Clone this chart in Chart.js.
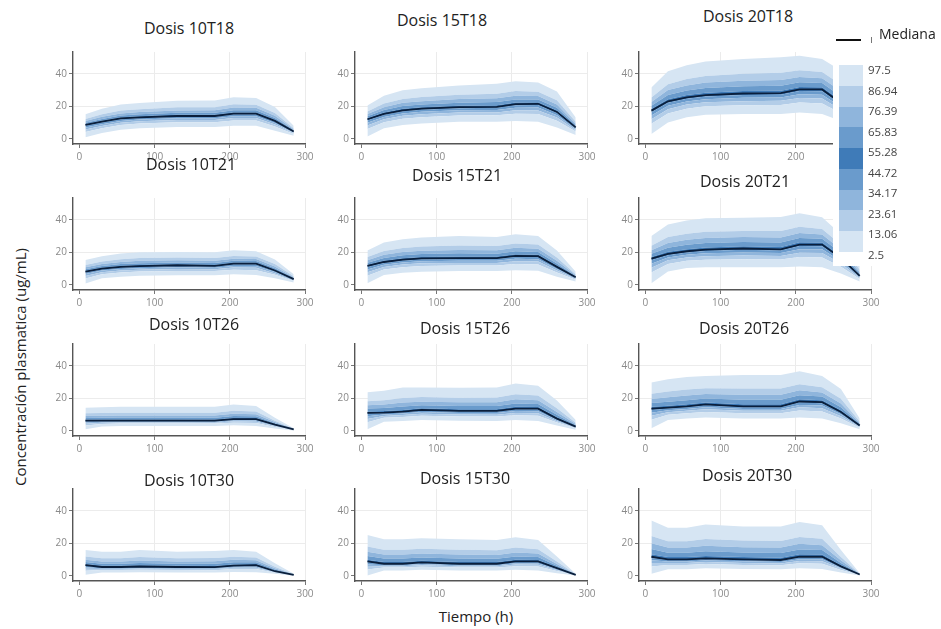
<!DOCTYPE html>
<html>
<head>
<meta charset="utf-8">
<script src="https://cdn.jsdelivr.net/npm/chart.js"></script>
<style>
  body { margin: 0; background: #fff; font-family: 'Open Sans', sans-serif; }
  #page { position: relative; width: 941px; height: 629px; overflow: hidden; }
  #page canvas { position: absolute; }
  .titulo { position: absolute; font-size: 16px; color: #222; white-space: nowrap; transform: translate(-50%, -50%); }
  .eje { position: absolute; font-size: 15px; color: #222; white-space: nowrap; transform: translate(-50%, -50%); }
  #leyenda { position: absolute; left: 833px; top: 48px; width: 108px; height: 218px; background: #fff; z-index: 5; }
  .lab { position: absolute; font-size: 11.5px; color: #444; transform: translateY(-50%); z-index: 6; }
</style>
</head>
<body>
<div id="page"></div>
<script>
// tiempo (h)
const tiempo = [8, 30, 55, 80, 130, 180, 205, 235, 260, 285];
// percentiles shown in the colour bar, top to bottom
const percentiles = ['97.5', '86.94', '76.39', '65.83', '55.28', '44.72', '34.17', '23.61', '13.06', '2.5'];
const ticksX = [0, 100, 200, 300];
const ticksY = [0, 20, 40];

// each panel: quantile curves 2.5, 13.06, 23.61, 34.17, 44.72, 55.28, 65.83, 76.39, 86.94, 97.5
const q10T18 = [
  [1, 3.5, 5.5, 6.5, 7.2, 7.3, 8, 8, 5, 1.8],
  [4.2, 6.5, 8.5, 9.4, 10.1, 10.2, 11.2, 11.2, 7.6, 3.0],
  [5.7, 7.9, 9.9, 10.7, 11.5, 11.5, 12.7, 12.7, 8.8, 3.5],
  [6.9, 9.0, 11.0, 11.8, 12.6, 12.6, 13.9, 13.9, 9.7, 3.9],
  [8.0, 10.0, 12.0, 12.7, 13.5, 13.5, 15.0, 15.0, 10.6, 4.3],
  [9.0, 11.1, 13.1, 13.8, 14.7, 14.7, 16.2, 16.2, 11.6, 4.7],
  [9.9, 12.2, 14.3, 15.1, 16.0, 16.0, 17.6, 17.5, 12.8, 5.2],
  [10.9, 13.5, 15.6, 16.5, 17.4, 17.5, 19.2, 19.0, 14.2, 5.8],
  [12.2, 15.1, 17.3, 18.2, 19.3, 19.4, 21.2, 20.9, 15.8, 6.5],
  [15, 18.5, 21, 22, 23.3, 23.5, 25.5, 25, 19.5, 8]
];
const m10T18 = [8.5, 10.5, 12.5, 13.2, 14, 14, 15.5, 15.5, 11, 4.5];

const q15T18 = [
  [1.4, 6.4, 8.4, 9.4, 10.4, 10.4, 11, 10.4, 7, 2.4],
  [6.0, 10.2, 12.3, 13.3, 14.3, 14.4, 15.4, 15.2, 11.1, 4.4],
  [8.1, 12.0, 14.1, 15.1, 16.1, 16.2, 17.5, 17.4, 13.0, 5.3],
  [9.8, 13.4, 15.6, 16.6, 17.5, 17.7, 19.1, 19.2, 14.5, 6.0],
  [11.3, 14.7, 16.9, 17.9, 18.8, 19.0, 20.6, 20.7, 15.8, 6.7],
  [12.6, 16.1, 18.4, 19.4, 20.3, 20.6, 22.3, 22.4, 17.4, 7.4],
  [13.8, 17.7, 20.1, 21.1, 22.2, 22.6, 24.2, 24.2, 19.1, 8.3],
  [15.2, 19.4, 22.1, 23.1, 24.4, 24.9, 26.5, 26.3, 21.1, 9.2],
  [16.8, 21.7, 24.5, 25.6, 27.0, 27.7, 29.3, 28.9, 23.6, 10.4],
  [20.5, 26.5, 29.8, 31, 32.8, 33.8, 35.3, 34.5, 29, 13]
];
const m15T18 = [12, 15.3, 17.5, 18.5, 19.4, 19.6, 21.3, 21.5, 16.5, 7];

const q20T18 = [
  [3, 10, 13.2, 14.8, 15.2, 15.2, 16.2, 15.2, 11, 4],
  [9.2, 15.6, 18.5, 20.0, 20.6, 20.7, 22.3, 21.7, 15.7, 6.6],
  [12.0, 18.2, 21.0, 22.4, 23.1, 23.3, 25.1, 24.7, 17.9, 7.8],
  [14.3, 20.3, 22.9, 24.3, 25.2, 25.3, 27.3, 27.1, 19.7, 8.7],
  [16.3, 22.1, 24.6, 26.0, 26.9, 27.1, 29.3, 29.2, 21.2, 9.6],
  [18.3, 24.3, 26.9, 28.3, 29.3, 29.5, 31.8, 31.6, 23.4, 10.8],
  [20.3, 26.9, 29.6, 31.2, 32.3, 32.6, 34.7, 34.2, 26.2, 12.5],
  [22.6, 29.9, 32.8, 34.5, 35.6, 36.1, 38.0, 37.2, 29.4, 14.4],
  [25.4, 33.5, 36.7, 38.6, 39.9, 40.5, 42.1, 41.0, 33.4, 16.8],
  [31.5, 41.5, 45.2, 47.5, 49, 50, 51, 49, 42, 22]
];
const m20T18 = [17.3, 23, 25.5, 26.8, 27.8, 28, 30.3, 30.3, 22, 10];

const q10T21 = [
  [0.8, 4, 5, 5.5, 5.9, 5.9, 6.5, 6, 4, 1.4],
  [3.9, 6.5, 7.6, 8.1, 8.5, 8.4, 9.3, 9.0, 6.1, 2.3],
  [5.4, 7.7, 8.8, 9.3, 9.7, 9.5, 10.6, 10.4, 7.0, 2.7],
  [6.6, 8.7, 9.7, 10.2, 10.7, 10.4, 11.6, 11.5, 7.8, 3.1],
  [7.6, 9.5, 10.6, 11.1, 11.6, 11.2, 12.5, 12.5, 8.5, 3.4],
  [8.6, 10.4, 11.6, 12.1, 12.6, 12.2, 13.6, 13.5, 9.3, 3.7],
  [9.6, 11.5, 12.7, 13.3, 13.7, 13.4, 14.7, 14.6, 10.2, 4.1],
  [10.7, 12.8, 14.0, 14.7, 15.0, 14.7, 16.0, 15.8, 11.3, 4.6],
  [12.2, 14.3, 15.7, 16.4, 16.7, 16.4, 17.7, 17.3, 12.7, 5.2],
  [15.2, 17.6, 19.2, 20, 20.2, 20, 21.2, 20.6, 15.6, 6.5]
];
const m10T21 = [8.1, 9.9, 11, 11.5, 12, 11.6, 13, 13, 8.8, 3.5];

const q15T21 = [
  [1, 6, 7.4, 8, 8.4, 8.4, 9, 8.6, 5, 2],
  [5.6, 9.4, 10.8, 11.5, 11.8, 11.8, 12.8, 12.5, 7.6, 3.1],
  [7.7, 11.0, 12.4, 13.2, 13.4, 13.4, 14.5, 14.3, 8.8, 3.6],
  [9.4, 12.3, 13.7, 14.5, 14.7, 14.7, 16.0, 15.7, 9.7, 4.1],
  [10.9, 13.4, 14.8, 15.6, 15.8, 15.8, 17.2, 17.0, 10.6, 4.4],
  [12.3, 14.8, 16.3, 17.1, 17.4, 17.3, 18.7, 18.5, 11.7, 4.8],
  [13.6, 16.5, 18.1, 18.9, 19.3, 19.1, 20.6, 20.2, 13.1, 5.3],
  [15.1, 18.4, 20.1, 20.9, 21.4, 21.2, 22.7, 22.2, 14.7, 5.9],
  [17.0, 20.8, 22.6, 23.5, 24.2, 23.8, 25.3, 24.7, 16.7, 6.5],
  [21, 26, 28, 29, 30, 29.4, 31, 30, 21, 8]
];
const m15T21 = [11.6, 14, 15.4, 16.2, 16.4, 16.4, 17.8, 17.6, 11, 4.6];

const q20T21 = [
  [1, 8.2, 10.3, 10.7, 10.8, 10.8, 11.3, 10.7, 7, 2],
  [7.5, 12.8, 14.7, 15.4, 15.7, 15.5, 17.1, 16.7, 11.1, 3.5],
  [10.5, 15.0, 16.8, 17.6, 18.0, 17.7, 19.7, 19.5, 13.0, 4.2],
  [12.9, 16.7, 18.4, 19.3, 19.9, 19.5, 21.9, 21.8, 14.5, 4.8],
  [15.0, 18.2, 19.9, 20.8, 21.5, 21.0, 23.8, 23.7, 15.8, 5.3],
  [17.1, 20.3, 21.9, 22.9, 23.6, 23.2, 26.1, 25.9, 17.5, 6.0],
  [19.0, 22.8, 24.6, 25.6, 26.3, 26.0, 28.8, 28.2, 19.6, 6.9],
  [21.2, 25.7, 27.6, 28.7, 29.3, 29.1, 31.8, 30.9, 21.9, 7.9],
  [24.0, 29.3, 31.4, 32.5, 33.1, 33.1, 35.7, 34.3, 24.8, 9.2],
  [30, 37, 39.5, 40.8, 41.2, 41.6, 44, 41.5, 31, 12]
];
const m20T21 = [16.1, 19, 20.6, 21.6, 22.3, 21.8, 24.7, 24.7, 16.5, 5.5];

const q10T26 = [
  [1, 2.6, 3, 3, 3, 3, 3.4, 3, 1.4, 0.2],
  [3.3, 4.2, 4.4, 4.4, 4.4, 4.4, 5.0, 4.8, 2.4, 0.5],
  [4.3, 4.9, 5.1, 5.1, 5.1, 5.0, 5.8, 5.6, 2.9, 0.6],
  [5.2, 5.5, 5.6, 5.6, 5.6, 5.5, 6.4, 6.3, 3.3, 0.7],
  [5.9, 6.0, 6.1, 6.1, 6.1, 6.0, 6.9, 6.9, 3.6, 0.8],
  [6.8, 6.9, 6.9, 6.9, 6.9, 6.8, 7.8, 7.8, 4.1, 0.9],
  [7.9, 8.0, 8.1, 8.1, 8.1, 8.0, 9.1, 8.9, 4.7, 1.0],
  [9.2, 9.3, 9.4, 9.4, 9.4, 9.4, 10.5, 10.2, 5.4, 1.1],
  [10.8, 11.0, 11.1, 11.1, 11.1, 11.1, 12.3, 11.8, 6.2, 1.2],
  [14.1, 14.5, 14.7, 14.7, 14.7, 14.7, 16.2, 15.2, 8, 1.5]
];
const m10T26 = [6.3, 6.3, 6.3, 6.3, 6.3, 6.2, 7.2, 7.2, 3.8, 0.8];

const q15T26 = [
  [1, 5.6, 6, 6.6, 6.2, 6, 6.6, 6, 3.2, 0.6],
  [5.3, 8.0, 8.5, 9.3, 8.8, 8.7, 9.6, 9.3, 5.1, 1.5],
  [7.3, 9.1, 9.7, 10.5, 10.0, 9.9, 11.0, 10.8, 5.9, 1.9],
  [8.9, 10.0, 10.6, 11.5, 10.9, 10.9, 12.1, 12.0, 6.6, 2.2],
  [10.3, 10.8, 11.4, 12.4, 11.8, 11.8, 13.1, 13.1, 7.2, 2.5],
  [11.9, 12.1, 12.8, 13.8, 13.2, 13.2, 14.7, 14.6, 8.3, 2.9],
  [13.7, 14.0, 14.9, 15.7, 15.2, 15.2, 16.8, 16.5, 9.8, 3.4],
  [15.7, 16.2, 17.3, 17.9, 17.5, 17.5, 19.3, 18.8, 11.6, 4.1],
  [18.2, 18.8, 20.2, 20.7, 20.3, 20.4, 22.4, 21.6, 13.8, 4.9],
  [23.6, 24.6, 26.6, 26.6, 26.4, 26.6, 29, 27.6, 18.6, 6.6]
];
const m15T26 = [11, 11.2, 11.8, 12.8, 12.2, 12.2, 13.6, 13.6, 7.5, 2.6];

const q20T26 = [
  [1.6, 6.6, 7.6, 8.2, 7.6, 7.6, 8.2, 7.6, 4.6, 1],
  [6.8, 9.9, 10.8, 11.6, 10.8, 10.8, 12.4, 11.9, 7.6, 1.9],
  [9.2, 11.4, 12.3, 13.2, 12.3, 12.3, 14.4, 13.9, 9.0, 2.4],
  [11.1, 12.6, 13.4, 14.5, 13.4, 13.4, 15.9, 15.5, 10.1, 2.7],
  [12.8, 13.7, 14.5, 15.6, 14.5, 14.5, 17.3, 16.9, 11.1, 3.1],
  [14.7, 15.4, 16.3, 17.4, 16.3, 16.3, 19.3, 18.7, 12.6, 3.5],
  [17.0, 17.9, 18.8, 19.9, 19.0, 19.0, 21.9, 21.0, 14.5, 4.1],
  [19.5, 20.6, 21.7, 22.6, 22.1, 22.1, 24.9, 23.5, 16.8, 4.8],
  [22.7, 24.1, 25.3, 26.1, 25.9, 25.9, 28.6, 26.7, 19.6, 5.7],
  [29.6, 31.6, 33, 33.6, 34.2, 34.2, 36.6, 33.6, 25.6, 7.6]
];
const m20T26 = [13.6, 14.2, 15, 16.2, 15, 15, 18, 17.6, 11.6, 3.2];

const q10T30 = [
  [0.6, 2, 2, 2.2, 2, 2, 2.4, 2.2, 1.2, 0.1],
  [3.1, 3.5, 3.5, 3.7, 3.5, 3.4, 4.1, 4.1, 1.9, 0.3],
  [4.3, 4.1, 4.1, 4.4, 4.1, 4.1, 4.9, 5.0, 2.2, 0.4],
  [5.3, 4.7, 4.7, 5.0, 4.7, 4.6, 5.5, 5.7, 2.5, 0.5],
  [6.1, 5.2, 5.2, 5.5, 5.2, 5.1, 6.0, 6.3, 2.7, 0.55],
  [7.2, 6.1, 6.1, 6.4, 6.1, 6.0, 7.0, 7.2, 3.1, 0.65],
  [8.5, 7.4, 7.4, 7.8, 7.4, 7.4, 8.3, 8.3, 3.8, 0.7],
  [9.9, 8.8, 8.8, 9.4, 8.8, 9.0, 9.8, 9.6, 4.6, 0.8],
  [11.8, 10.7, 10.7, 11.5, 10.7, 10.9, 11.7, 11.2, 5.6, 0.9],
  [15.8, 14.7, 14.7, 15.8, 14.7, 15.2, 15.8, 14.7, 7.7, 1.2]
];
const m10T30 = [6.5, 5.4, 5.4, 5.7, 5.4, 5.3, 6.3, 6.6, 2.8, 0.6];

const q15T30 = [
  [0.2, 3.3, 3.3, 3.7, 3.3, 3.3, 3.7, 3.3, 1.6, 0.2],
  [3.9, 5.1, 5.1, 5.6, 5.1, 5.1, 5.9, 5.7, 2.9, 0.4],
  [5.6, 5.9, 5.9, 6.5, 5.9, 5.9, 6.9, 6.8, 3.6, 0.45],
  [7.0, 6.5, 6.5, 7.3, 6.5, 6.5, 7.7, 7.6, 4.1, 0.5],
  [8.2, 7.1, 7.1, 7.9, 7.1, 7.1, 8.4, 8.4, 4.5, 0.55],
  [9.9, 8.5, 8.5, 9.2, 8.5, 8.4, 9.8, 9.7, 5.2, 0.65],
  [12.2, 10.6, 10.6, 11.3, 10.6, 10.5, 11.9, 11.6, 6.2, 0.7],
  [14.8, 13.0, 13.0, 13.7, 13.0, 12.8, 14.3, 13.7, 7.3, 0.8],
  [18.0, 16.0, 16.0, 16.6, 16.0, 15.7, 17.3, 16.3, 8.8, 0.9],
  [25, 22.4, 22.4, 23, 22.4, 22, 23.7, 22, 11.8, 1.2]
];
const m15T30 = [8.8, 7.4, 7.4, 8.2, 7.4, 7.4, 8.8, 8.8, 4.7, 0.6];

const q20T30 = [
  [1.2, 4, 4, 4.6, 4.2, 4, 4.6, 4.2, 2, 0.2],
  [5.7, 6.6, 6.6, 7.2, 6.7, 6.5, 7.7, 7.4, 3.6, 0.5],
  [7.8, 7.8, 7.8, 8.4, 7.9, 7.6, 9.1, 8.9, 4.4, 0.6],
  [9.5, 8.8, 8.8, 9.4, 8.9, 8.5, 10.2, 10.1, 5.0, 0.7],
  [11.0, 9.7, 9.7, 10.3, 9.7, 9.3, 11.2, 11.2, 5.5, 0.75],
  [13.3, 11.5, 11.5, 12.2, 11.5, 11.1, 13.2, 13.1, 6.5, 0.9],
  [16.4, 14.2, 14.2, 15.1, 14.3, 14.0, 16.2, 15.8, 7.9, 1.0],
  [20.0, 17.3, 17.3, 18.4, 17.6, 17.3, 19.6, 18.8, 9.5, 1.1],
  [24.4, 21.2, 21.2, 22.6, 21.6, 21.4, 23.8, 22.7, 11.5, 1.2],
  [34, 29.5, 29.5, 31.5, 30.3, 30.3, 33, 31, 15.8, 1.5]
];
const m20T30 = [11.7, 10.1, 10.1, 10.7, 10.1, 9.7, 11.7, 11.7, 5.8, 0.8];

const paneles = [
  ['Dosis 10T18', q10T18, m10T18], ['Dosis 15T18', q15T18, m15T18], ['Dosis 20T18', q20T18, m20T18],
  ['Dosis 10T21', q10T21, m10T21], ['Dosis 15T21', q15T21, m15T21], ['Dosis 20T21', q20T21, m20T21],
  ['Dosis 10T26', q10T26, m10T26], ['Dosis 15T26', q15T26, m15T26], ['Dosis 20T26', q20T26, m20T26],
  ['Dosis 10T30', q10T30, m10T30], ['Dosis 15T30', q15T30, m15T30], ['Dosis 20T30', q20T30, m20T30]
];

// layout
const colLeft = [39, 321, 605];          // canvas left (axis line at +34)
const rowTop = [44, 190, 336, 481];      // canvas top (plot top at +6)
const posTitulo = [
  [189, 28], [442, 20], [748, 16],
  [191, 164], [457, 175], [745, 181],
  [194, 324], [465, 328], [744, 328],
  [189, 480], [465, 478], [747, 475]
];
// band colours, outer to inner (2.5-13.06 ... 44.72-55.28 ... 86.94-97.5)
const colorBanda = ['#d6e5f3', '#b3cde8', '#8fb5dc', '#6a9bcc', '#3f7bb8', '#6a9bcc', '#8fb5dc', '#b3cde8', '#d6e5f3'];
const colorMediana = '#0a1f3c';

const page = document.getElementById('page');

paneles.forEach(([titulo, q, med], i) => {
  const r = Math.floor(i / 3), c = i % 3;
  const cv = document.createElement('canvas');
  cv.width = 278; cv.height = 124;
  cv.style.left = colLeft[c] + 'px';
  cv.style.top = rowTop[r] + 'px';
  cv.style.width = '278px'; cv.style.height = '124px';
  page.appendChild(cv);

  const t = document.createElement('div');
  t.className = 'titulo';
  t.textContent = titulo;
  t.style.left = posTitulo[i][0] + 'px';
  t.style.top = posTitulo[i][1] + 'px';
  page.appendChild(t);

  const datasets = q.map((serie, k) => ({
    data: serie.map((v, j) => ({ x: tiempo[j], y: v })),
    fill: k === 0 ? false : '-1',
    backgroundColor: k === 0 ? 'transparent' : colorBanda[k - 1],
    borderWidth: 0,
    pointRadius: 0,
    order: 1
  }));
  datasets.push({
    data: med.map((v, j) => ({ x: tiempo[j], y: v })),
    fill: false,
    borderColor: colorMediana,
    borderWidth: 1.8,
    pointRadius: 0,
    order: 0
  });

  new Chart(cv, {
    type: 'line',
    data: { datasets },
    options: {
      responsive: false,
      animation: false,
      layout: { padding: { left: 0, right: 12, top: 6, bottom: 0 } },
      plugins: { legend: { display: false }, tooltip: { enabled: false } },
      elements: { line: { tension: 0 } },
      scales: {
        x: {
          type: 'linear', min: -8.5, max: 300,
          afterBuildTicks: s => { s.ticks = ticksX.map(v => ({ value: v })); },
          afterFit: s => { s.height = 24; },
          ticks: { font: { family: 'Open Sans', size: 10 }, color: '#8a8a8a', padding: 3, maxRotation: 0 },
          grid: { color: ctx => ctx.tick && ctx.tick.value === 0 ? 'rgba(0,0,0,0)' : '#ebebeb', tickLength: 4, tickColor: '#777' },
          border: { color: '#555', width: 1.4 }
        },
        y: {
          type: 'linear', min: -3.2, max: 53.3,
          afterBuildTicks: s => { s.ticks = ticksY.map(v => ({ value: v })); },
          afterFit: s => { s.width = 34; },
          ticks: { font: { family: 'Open Sans', size: 10 }, color: '#8a8a8a', padding: 2 },
          grid: { color: ctx => ctx.tick && ctx.tick.value === 0 ? 'rgba(0,0,0,0)' : '#ececec', tickLength: 4, tickColor: '#777' },
          border: { color: '#555', width: 1.4 }
        }
      }
    }
  });
});

// axis titles
const yt = document.createElement('div');
yt.className = 'eje';
yt.textContent = 'Concentración plasmatica (ug/mL)';
yt.style.left = '20px'; yt.style.top = '367px';
yt.style.transform = 'translate(-50%, -50%) rotate(-90deg)';
page.appendChild(yt);

const xt = document.createElement('div');
xt.className = 'eje';
xt.textContent = 'Tiempo (h)';
xt.style.left = '476px'; xt.style.top = '616px';
page.appendChild(xt);

// legend
const ley = document.createElement('div');
ley.id = 'leyenda';
page.appendChild(ley);

const linea = document.createElement('div');
Object.assign(linea.style, { position: 'absolute', left: '836px', top: '39px', width: '25px', height: '2px', background: '#111', zIndex: 6 });
page.appendChild(linea);
const marca = document.createElement('div');
Object.assign(marca.style, { position: 'absolute', left: '871px', top: '37px', width: '1px', height: '6px', background: '#777', zIndex: 6 });
page.appendChild(marca);
const med = document.createElement('div');
med.className = 'lab';
med.textContent = 'Mediana';
Object.assign(med.style, { left: '879px', top: '33px', fontSize: '14px', color: '#222' });
page.appendChild(med);

const barTop = 65, barH = 187 / 9;
colorBanda.forEach((col, k) => {
  const b = document.createElement('div');
  Object.assign(b.style, { position: 'absolute', left: '839px', width: '24px', top: (barTop + k * barH) + 'px', height: (barH + 0.5) + 'px', background: colorBanda[colorBanda.length - 1 - k], zIndex: 6 });
  page.appendChild(b);
});
percentiles.forEach((p, k) => {
  const l = document.createElement('div');
  l.className = 'lab';
  l.textContent = p;
  l.style.left = '868px';
  l.style.top = (69 + k * 20.5) + 'px';
  page.appendChild(l);
});
</script>
</body>
</html>
